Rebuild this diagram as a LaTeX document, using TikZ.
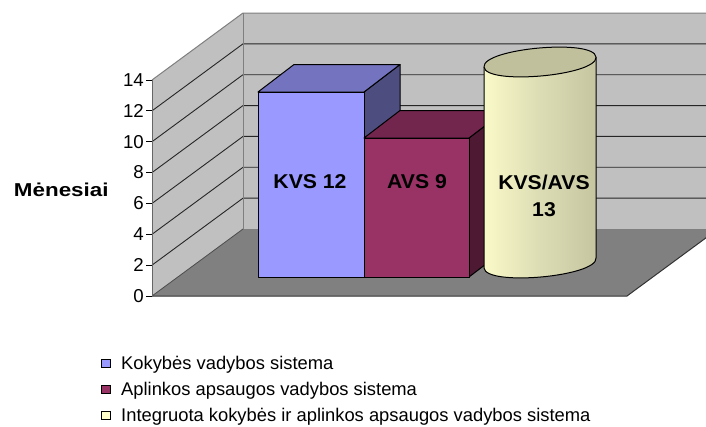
\documentclass[tikz,border=0pt]{standalone}
\usepackage{fontspec}
\setmainfont{Liberation Sans}
\newfontfamily\axisfont[FakeStretch=1.2]{Liberation Sans}
\newfontfamily\barfont[FakeStretch=1.06]{Liberation Sans}
\usetikzlibrary{calc}
\definecolor{wallgray}{HTML}{C0C0C0}
\definecolor{floorgray}{HTML}{808080}
\definecolor{edgegray}{HTML}{7F7F7F}
\definecolor{kvsfront}{HTML}{9999FF}
\definecolor{kvstop}{HTML}{7373BF}
\definecolor{kvsside}{HTML}{4D4D80}
\definecolor{avsfront}{HTML}{993366}
\definecolor{avstop}{HTML}{73264D}
\definecolor{avsside}{HTML}{4D1933}
\definecolor{cyltop}{HTML}{C0C09C}
\definecolor{cyllight}{HTML}{FFFFCC}
\definecolor{cylmid}{HTML}{DCDCB4}
\definecolor{cyldark}{HTML}{9E9E7C}
\pgfdeclarehorizontalshading{cylbody}{100bp}{
  color(0bp)=(cyllight);
  color(20bp)=(cyllight);
  color(50bp)=(cylmid);
  color(80bp)=(cyltop);
  color(100bp)=(cyldark)}
\tikzset{
  txt/.style={font=\fontsize{18.67}{22}\selectfont, inner sep=0pt},
  legtxt/.style={font=\fontsize{18.35}{22}\selectfont, inner sep=0pt},
  bartxt/.style={inner sep=0pt, font=\barfont\fontsize{20}{27}\selectfont\bfseries},
  barline/.style={draw=black, line width=1pt, line join=round},
  gridline/.style={draw=black!85, line width=0.9pt},
  wallline/.style={draw=edgegray, line width=1pt},
  legbox/.style={draw=black, line width=0.8pt, minimum size=8.5pt, inner sep=0pt},
}
\begin{document}
\begin{tikzpicture}[x=1pt, y=-1pt]
\useasboundingbox (0,0) rectangle (706,426);
% floor and walls, cut at the right border
\begin{scope}
  \clip (0,0) rectangle (706,426);
  \fill[wallgray] (152,80) -- (243,13) -- (243,229) -- (152,296) -- cycle;
  \fill[wallgray] (243,13) rectangle (720,229);
  \fill[floorgray] (152,296) -- (243,229) -- (718,229) -- (627,296) -- cycle;
  % grid lines on the walls (2 ... 12 months)
  \foreach \v in {2,4,...,12}{
    \draw[gridline] (152,{296-\v*15.43}) -- (243,{229-\v*15.43}) -- (720,{229-\v*15.43});
  }
  \draw[wallline] (152,80) -- (243,13) -- (720,13);
  \draw[wallline] (243,13) -- (243,229) -- (720,229);
  \draw[draw=black!70, line width=0.8pt] (152,296) -- (243,229);
  \draw[draw=black!80, line width=1pt] (152,296) -- (627,296) -- (718,229);
\end{scope}
% value axis with ticks and labels
\draw[draw=black!60, line width=1pt] (152,80) -- (152,296);
\foreach \v in {0,2,...,14}{
  \draw[black, line width=0.8pt] (146,{296-\v*15.43}) -- (152,{296-\v*15.43});
  \node[txt, anchor=east] (t\v) at (144,{296-\v*15.43}) {\v};
}
\node[inner sep=0pt, anchor=base, font=\axisfont\fontsize{18.67}{22}\selectfont\bfseries] (ylabel) at (61.3,196) {Mėnesiai};
% bar 1: KVS 12
\filldraw[barline, fill=kvsside] (364,92) -- (400,64.5) -- (400,249.5) -- (364,277) -- cycle;
\filldraw[barline, fill=kvstop] (258,92) -- (294,64.5) -- (400,64.5) -- (364,92) -- cycle;
\filldraw[barline, fill=kvsfront] (258,92) rectangle (364,277);
\node[bartxt] (kvs) at (310,181.5) {KVS 12};
% bar 2: AVS 9
\filldraw[barline, fill=avsside] (469,138) -- (505,110.5) -- (505,249.5) -- (469,277) -- cycle;
\filldraw[barline, fill=avstop] (364,138) -- (400,110.5) -- (505,110.5) -- (469,138) -- cycle;
\filldraw[barline, fill=avsfront] (364,138) rectangle (469,277);
\node[bartxt] (avs) at (417,181.5) {AVS 9};
% cylinder: KVS/AVS 13
\shade[shading=cylbody] (484,67) -- (484,268)
  .. controls (485.7,286.6) and (597.7,276.6) .. (596,258) -- (596,57)
  .. controls (597.7,75.6) and (485.7,85.6) .. (484,67) -- cycle;
\draw[barline] (484,67) -- (484,268)
  .. controls (485.7,286.6) and (597.7,276.6) .. (596,258) -- (596,57);
\filldraw[barline, fill=cyltop] (484,67)
  .. controls (485.7,85.6) and (597.7,75.6) .. (596,57)
  .. controls (594.3,38.4) and (482.3,48.4) .. (484,67) -- cycle;
\node[bartxt, align=center] (both) at (544,196) {KVS/AVS\\13};
% legend
\node[legbox, fill=kvsfront] (l1) at (106,363.5) {};
\node[legbox, fill=avsfront] (l2) at (106,389.5) {};
\node[legbox, fill=cyllight] (l3) at (106,415.5) {};
\node[legtxt, anchor=base west] (k1) at (121,369.5) {Kokybės vadybos sistema};
\node[legtxt, anchor=base west] (k2) at (121,395.5) {Aplinkos apsaugos vadybos sistema};
\node[legtxt, anchor=base west] (k3) at (121,421.5) {Integruota kokybės ir aplinkos apsaugos vadybos sistema};
\end{tikzpicture}
\end{document}
